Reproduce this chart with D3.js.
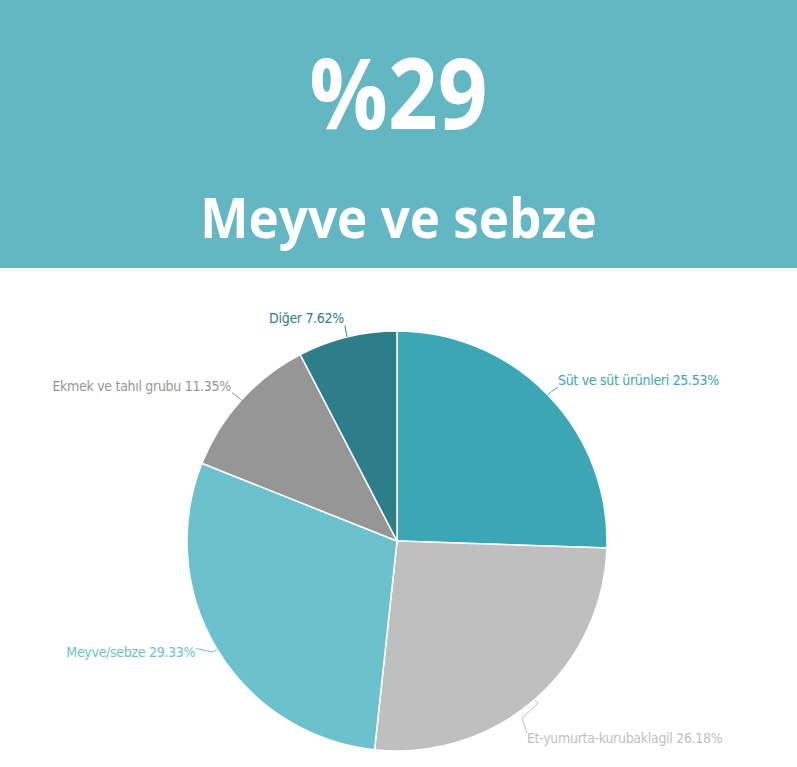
<!DOCTYPE html>
<html>
<head>
<meta charset="utf-8">
<script src="https://cdn.jsdelivr.net/npm/d3@7"></script>
<style>
  body { margin: 0; background: #fff; }
  svg { display: block; }
</style>
</head>
<body>
<div class="chart"></div>
<script>
// data
var headline = "%29";
var subtitle = "Meyve ve sebze";
var categories = ["Süt ve süt ürünleri", "Et-yumurta-kurubaklagil", "Meyve/sebze", "Ekmek ve tahıl grubu", "Diğer"];
var shares = [25.53, 26.18, 29.33, 11.35, 7.62];
var colors = ["#3ca6b4", "#bfbfbf", "#6bc2cc", "#969696", "#2d7e88"];

var width = 797, height = 767;
var headerHeight = 268;
var cx = 397, cy = 541, radius = 210;

var svg = d3.select('div.chart')
    .append('svg')
    .attr('width', width)
    .attr('height', height);

// header band
svg.append('rect')
    .attr('width', width)
    .attr('height', headerHeight)
    .attr('fill', '#62b7c2');

// the original font is narrower than Open Sans, squeeze a bit
svg.append('text')
    .attr('transform', 'translate(' + (width / 2) + ',129) scale(0.89,1)')
    .attr('text-anchor', 'middle')
    .style('font-family', '"Open Sans", sans-serif')
    .style('font-weight', 700)
    .style('font-size', '98px')
    .style('fill', '#fff')
    .text(headline);

svg.append('text')
    .attr('transform', 'translate(' + (width / 2) + ',238) scale(0.915,1)')
    .attr('text-anchor', 'middle')
    .style('font-family', '"Open Sans", sans-serif')
    .style('font-weight', 700)
    .style('font-size', '56px')
    .style('fill', '#fff')
    .text(subtitle);

// pie
var data = categories.map(function (c, i) {
    return { name: c, value: shares[i], color: colors[i] };
});

var pie = d3.pie()
    .sort(null)
    .value(function (d) { return d.value; });

var arc = d3.arc()
    .innerRadius(0)
    .outerRadius(radius);

var chart = svg.append('g')
    .attr('transform', 'translate(' + cx + ',' + cy + ')');

var arcs = pie(data);

chart.selectAll('path.slice')
    .data(arcs)
    .enter()
    .append('path')
    .attr('class', 'slice')
    .attr('d', arc)
    .attr('fill', function (d) { return d.data.color; })
    .attr('stroke', '#fff')
    .attr('stroke-width', 1.5);

// labels + connectors
function pointAt(angle, r) {
    return [Math.sin(angle) * r, -Math.cos(angle) * r];
}

// small nudges for labels that get pushed around
var nudge = {
    "Meyve/sebze": { dx: -10, dy: 0 },
    "Et-yumurta-kurubaklagil": { dx: -17, dy: 33 }
};

arcs.forEach(function (d) {
    var mid = (d.startAngle + d.endAngle) / 2;
    var right = Math.sin(mid) > 0;
    var p0 = pointAt(mid, radius);
    var p1 = pointAt(mid, radius + 5);
    var p2 = pointAt(mid, radius + 14);
    var n = nudge[d.data.name] || { dx: 0, dy: 0 };
    var tx = p2[0] + n.dx, ty = p2[1] + n.dy;

    var pts;
    if (d.data.name === "Et-yumurta-kurubaklagil") {
        pts = [p0, p1, [tx - 5, ty - 25], [tx, ty - 10]];
    } else if (d.data.name === "Meyve/sebze") {
        pts = [p0, p1, [tx + 1, ty - 8]];
    } else {
        pts = [p0, p1, [p2[0] + (right ? 0 : 1), p2[1] + 2]];
    }

    chart.append('path')
        .attr('d', d3.line()(pts))
        .attr('fill', 'none')
        .attr('stroke', d.data.color)
        .attr('stroke-width', 1);

    chart.append('text')
        .attr('x', tx)
        .attr('y', ty)
        .attr('text-anchor', right ? 'start' : 'end')
        .style('font-family', '"Liberation Sans Narrow", "DejaVu Sans Condensed", sans-serif')
        .style('font-size', '14px')
        .style('letter-spacing', '-0.3px')
        .style('fill', d.data.color)
        .text(d.data.name + ' ' + d3.format('.2f')(d.data.value) + '%');
});
</script>
</body>
</html>
